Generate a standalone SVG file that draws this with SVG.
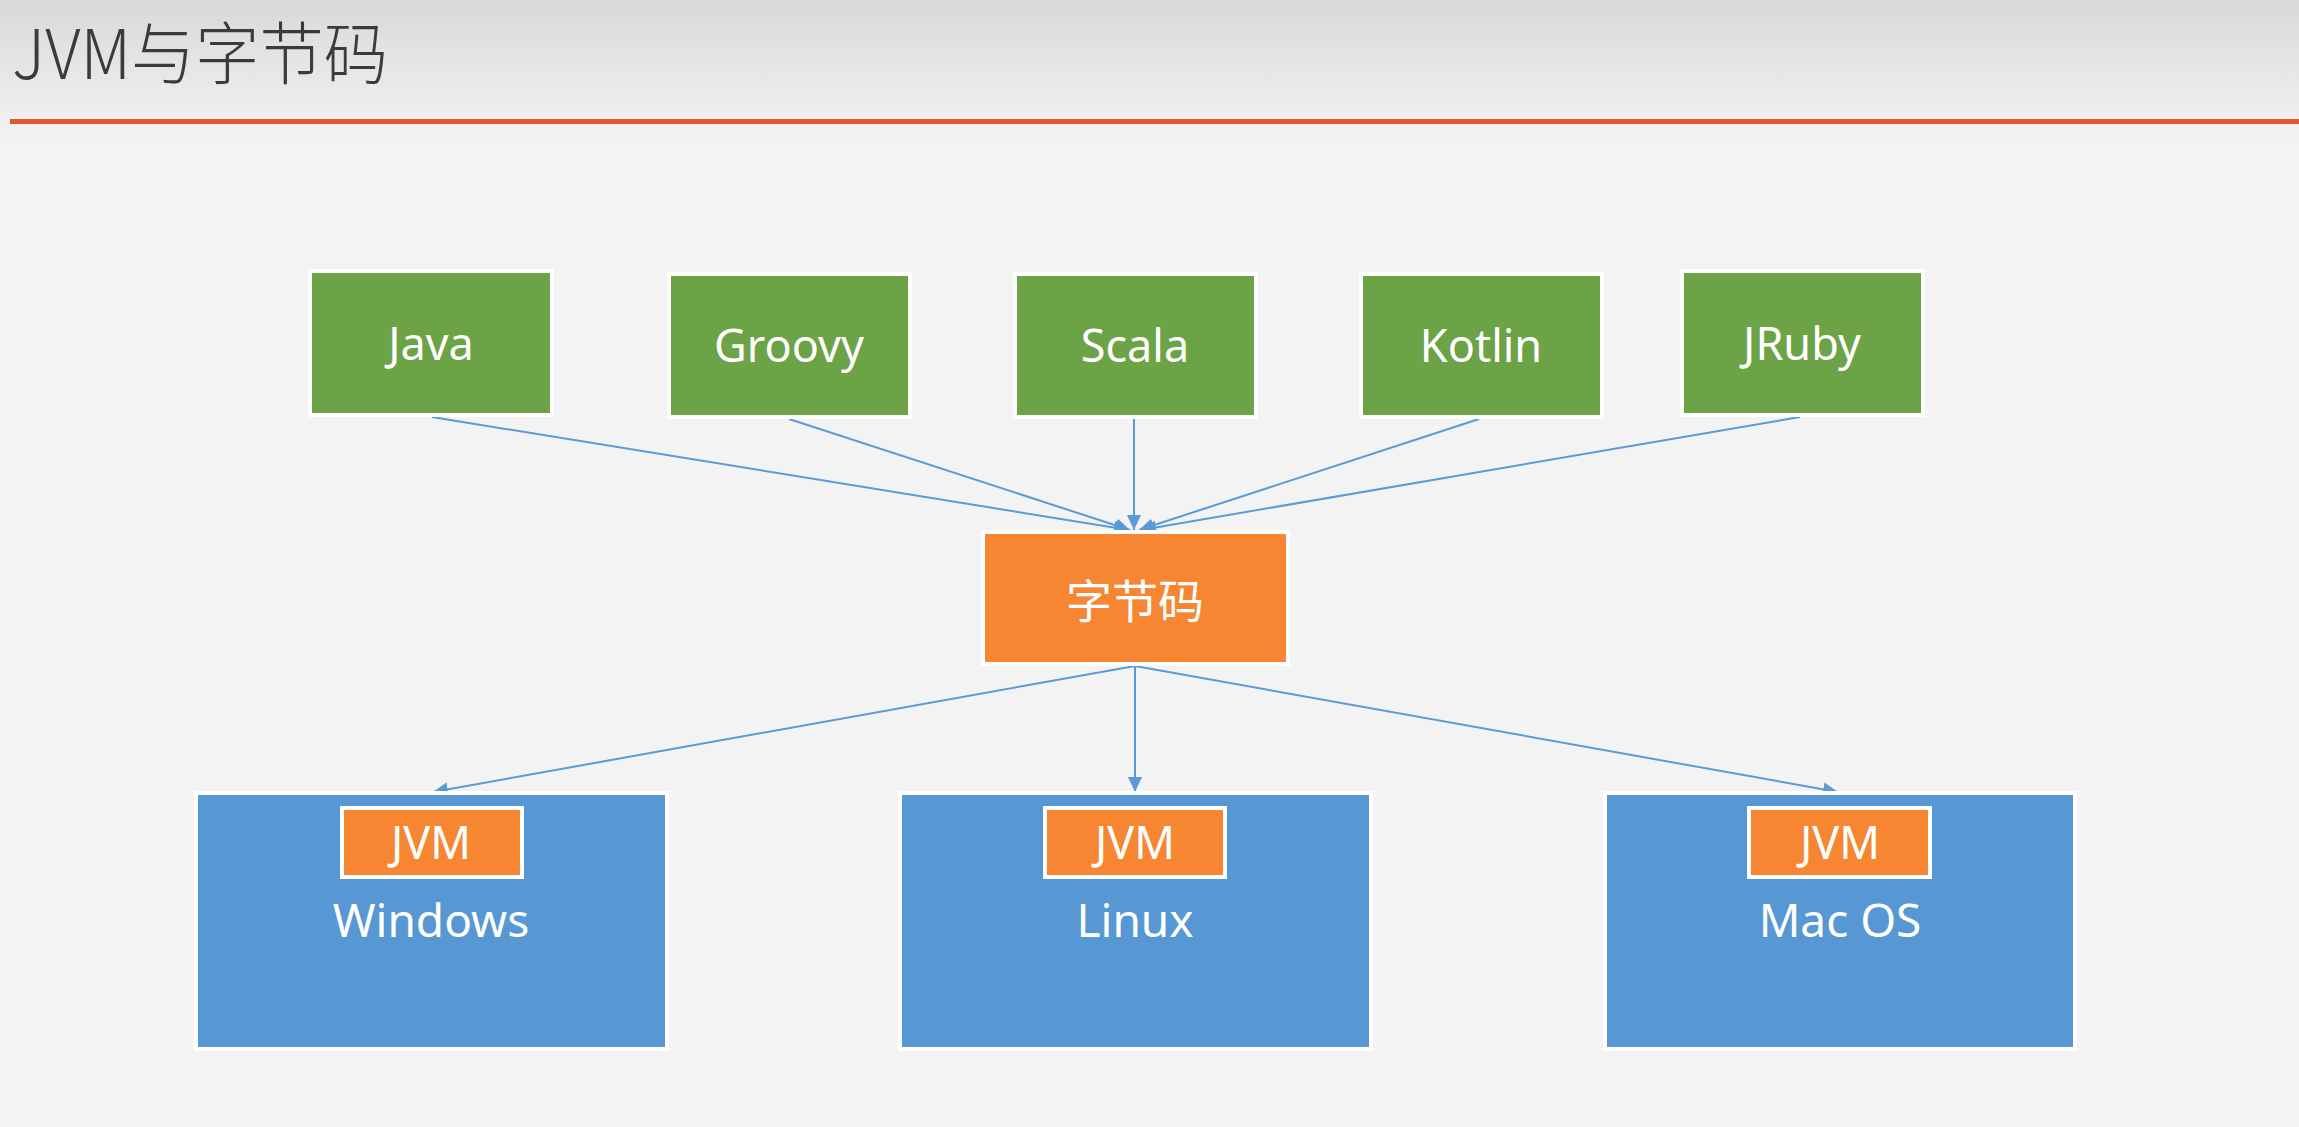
<svg xmlns="http://www.w3.org/2000/svg" width="2299" height="1127" viewBox="0 0 2299 1127">
<defs>
<linearGradient id="bg" x1="0" y1="0" x2="0" y2="1">
<stop offset="0" stop-color="#d9d9d9"/>
<stop offset="1" stop-color="#f3f3f3"/>
</linearGradient>
<marker id="arr" markerUnits="userSpaceOnUse" markerWidth="16" markerHeight="14" refX="15" refY="7" orient="auto">
<path d="M0,0 L15,7 L0,14 z" fill="#5b9bd5"/>
</marker>
<style>
.lang{fill:#6ca346;stroke:#ffffff;stroke-width:4}
.bc{fill:#f68632;stroke:#ffffff;stroke-width:4}
.os{fill:#5798d4;stroke:#ffffff;stroke-width:4}
.jvm{fill:#f68632;stroke:#ffffff;stroke-width:4}
.t{font-family:"Noto Sans","Noto Sans CJK SC",sans-serif;fill:#ffffff;text-anchor:middle}
.edge{stroke:#5b9bd5;stroke-width:2;fill:none;marker-end:url(#arr)}
</style>
</defs>
<rect x="0" y="0" width="2299" height="1127" fill="#f3f3f3"/>
<rect x="0" y="0" width="2299" height="140" fill="url(#bg)"/>
<text x="12" y="79" font-family="'Noto Sans CJK SC',sans-serif" font-weight="300" font-size="68" fill="#3b3b3b" textLength="376" lengthAdjust="spacingAndGlyphs">JVM与字节码</text>
<rect x="10" y="119" width="2289" height="5" fill="#e2572a"/>

<g id="connectors">
<line class="edge" x1="432" y1="417" x2="1129" y2="530"/>
<line class="edge" x1="789" y1="419" x2="1130" y2="530"/>
<line class="edge" x1="1134" y1="419" x2="1134" y2="530"/>
<line class="edge" x1="1479" y1="419" x2="1139" y2="530"/>
<line class="edge" x1="1800" y1="417" x2="1141" y2="530"/>
<line class="edge" x1="1135" y1="666" x2="433" y2="792"/>
<line class="edge" x1="1135" y1="666" x2="1135" y2="792"/>
<line class="edge" x1="1135" y1="666" x2="1838" y2="792"/>
</g>

<g id="java"><rect class="lang" x="310" y="271" width="242" height="144"/><text class="t" x="431" y="360" font-size="45">Java</text></g>
<g id="groovy"><rect class="lang" x="669" y="274" width="241" height="143"/><text class="t" x="789" y="362" font-size="45">Groovy</text></g>
<g id="scala"><rect class="lang" x="1015" y="274" width="241" height="143"/><text class="t" x="1135" y="362" font-size="45">Scala</text></g>
<g id="kotlin"><rect class="lang" x="1361" y="274" width="241" height="143"/><text class="t" x="1481" y="362" font-size="45">Kotlin</text></g>
<g id="jruby"><rect class="lang" x="1682" y="271" width="241" height="144"/><text class="t" x="1802" y="360" font-size="45">JRuby</text></g>

<g id="bytecode"><rect class="bc" x="983" y="532" width="305" height="132"/><text class="t" x="1135" y="618" font-size="46">字节码</text></g>

<g id="windows"><rect class="os" x="196" y="793" width="471" height="256"/><rect class="jvm" x="342" y="808" width="180" height="69"/><text class="t" x="431" y="859" font-size="45">JVM</text><text class="t" x="431" y="937" font-size="46">Windows</text></g>
<g id="linux"><rect class="os" x="900" y="793" width="471" height="256"/><rect class="jvm" x="1045" y="808" width="180" height="69"/><text class="t" x="1135" y="859" font-size="45">JVM</text><text class="t" x="1135" y="937" font-size="46">Linux</text></g>
<g id="macos"><rect class="os" x="1605" y="793" width="470" height="256"/><rect class="jvm" x="1749" y="808" width="181" height="69"/><text class="t" x="1840" y="859" font-size="45">JVM</text><text class="t" x="1840" y="937" font-size="46">Mac OS</text></g>
</svg>
